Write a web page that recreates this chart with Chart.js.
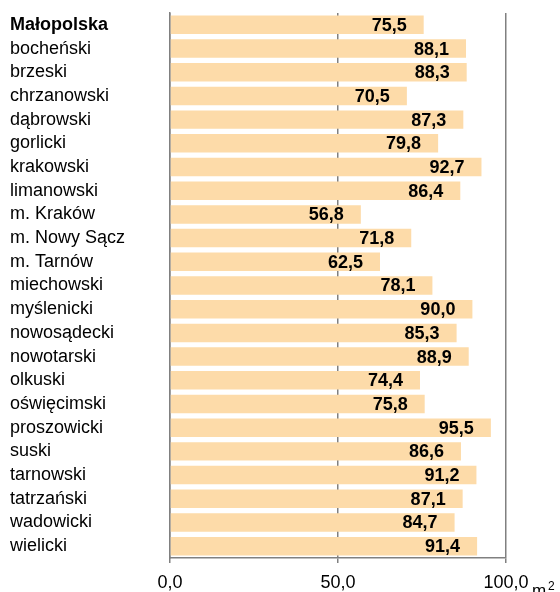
<!DOCTYPE html>
<html>
<head>
<meta charset="utf-8">
<script src="https://cdn.jsdelivr.net/npm/chart.js@4"></script>
<style>
  body { margin: 0; background: #fff; }
  #wrap { width: 560px; height: 592px; position: relative; }
</style>
</head>
<body>
<div id="wrap"><canvas id="myChart"></canvas></div>
<script>
const regions = ['Małopolska', 'bocheński', 'brzeski', 'chrzanowski', 'dąbrowski', 'gorlicki',
  'krakowski', 'limanowski', 'm. Kraków', 'm. Nowy Sącz', 'm. Tarnów', 'miechowski',
  'myślenicki', 'nowosądecki', 'nowotarski', 'olkuski', 'oświęcimski', 'proszowicki',
  'suski', 'tarnowski', 'tatrzański', 'wadowicki', 'wielicki'];
const area = [75.5, 88.1, 88.3, 70.5, 87.3, 79.8, 92.7, 86.4, 56.8, 71.8, 62.5, 78.1,
  90.0, 85.3, 88.9, 74.4, 75.8, 95.5, 86.6, 91.2, 87.1, 84.7, 91.4];
const xTicks = [0, 50, 100];

const fmt = v => v.toFixed(1).replace('.', ',');
const FONT = 'Arial, "Liberation Sans", sans-serif';

Chart.defaults.font.family = FONT;
Chart.defaults.color = '#000';

// value labels inside the bar end + unit under the right corner
const barLabels = {
  id: 'barLabels',
  afterDatasetsDraw(chart) {
    const ctx = chart.ctx;
    const meta = chart.getDatasetMeta(0);
    ctx.save();
    ctx.font = 'bold 18px ' + FONT;
    ctx.fillStyle = '#000';
    ctx.textAlign = 'right';
    ctx.textBaseline = 'middle';
    meta.data.forEach((bar, i) => {
      ctx.fillText(fmt(area[i]), bar.x - 17, bar.y + 1);
    });
    // m²
    ctx.textAlign = 'left';
    ctx.textBaseline = 'alphabetic';
    ctx.font = '17px ' + FONT;
    ctx.fillText('m', 532, 596);
    ctx.font = '12px ' + FONT;
    ctx.fillText('2', 548, 590);
    ctx.restore();
  }
};

const config = {
  type: 'bar',
  data: {
    labels: regions,
    datasets: [{
      data: area,
      backgroundColor: '#fddba9',
      borderWidth: 0,
      barPercentage: 0.78,
      categoryPercentage: 1
    }]
  },
  options: {
    indexAxis: 'y',
    responsive: true,
    maintainAspectRatio: false,
    animation: false,
    layout: { padding: { left: 10, right: 54, top: 13, bottom: 0 } },
    plugins: { legend: { display: false }, tooltip: { enabled: false } },
    scales: {
      x: {
        min: 0,
        max: 100,
        afterBuildTicks: (scale) => { scale.ticks = xTicks.map(v => ({ value: v })); },
        afterFit: (scale) => { scale.height = 34; },
        grid: { color: '#808080', lineWidth: 1.5, tickLength: 5 },
        border: { display: true, color: '#808080', width: 1.5 },
        ticks: {
          padding: 9,
          font: { size: 18 },
          callback: (v) => fmt(v)
        }
      },
      y: {
        afterFit: (scale) => { scale.width = 160; },
        grid: { display: false },
        border: { display: true, color: '#808080', width: 1.5 },
        ticks: {
          autoSkip: false,
          crossAlign: 'far',
          padding: 0,
          font: (c) => ({ size: 18, weight: c.index === 0 ? 'bold' : 'normal' })
        }
      }
    }
  },
  plugins: [barLabels]
};

const myChart = new Chart(document.getElementById('myChart'), config);
</script>
</body>
</html>
